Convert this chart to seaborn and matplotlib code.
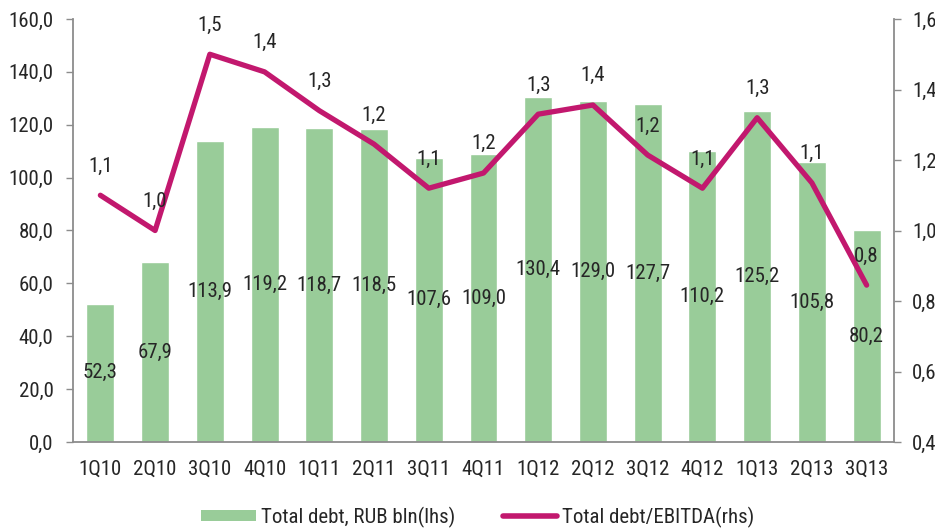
import numpy as np
import seaborn as sns
import matplotlib.pyplot as plt
from matplotlib.patches import Patch
from matplotlib.lines import Line2D

quarters = ['1Q10', '2Q10', '3Q10', '4Q10', '1Q11', '2Q11', '3Q11', '4Q11',
            '1Q12', '2Q12', '3Q12', '4Q12', '1Q13', '2Q13', '3Q13']
total_debt = [52.3, 67.9, 113.9, 119.2, 118.7, 118.5, 107.6, 109.0,
              130.4, 129.0, 127.7, 110.2, 125.2, 105.8, 80.2]
debt_ebitda = [1.10, 1.00, 1.50, 1.45, 1.34, 1.245, 1.12, 1.163,
               1.33, 1.356, 1.214, 1.12, 1.32, 1.135, 0.845]

bar_color = '#99CC99'
line_color = '#C2186E'
axis_color = '#8C8C8C'

sns.set_style('white')
plt.rcParams['font.family'] = ['Roboto Condensed', 'Liberation Sans', 'DejaVu Sans']
fs = 15


def comma(v):
    return f'{v:.1f}'.replace('.', ',')


fig = plt.figure(figsize=(9.35, 5.28), dpi=100)
ax = fig.add_axes([73 / 935, 1 - 442 / 528, (894 - 73) / 935, (442 - 19) / 528])

sns.barplot(x=quarters, y=total_debt, color=bar_color, width=0.51, saturation=1, ax=ax)
ax.bar_label(ax.containers[0], labels=[comma(v) for v in total_debt],
             label_type='center', fontsize=fs)

ax.set_xlim(-0.5, len(quarters) - 0.5)
ax.set_ylim(0, 160)
ax.set_yticks(np.arange(0, 161, 20))
ax.set_yticklabels([comma(v) for v in np.arange(0, 161, 20)])
ax.set_xticks(np.arange(-0.5, len(quarters)), minor=True)
ax.tick_params(axis='x', which='major', length=0, pad=13, labelsize=fs)
ax.tick_params(axis='x', which='minor', length=6, width=1, color=axis_color, direction='out')
ax.tick_params(axis='y', length=5, width=1, color=axis_color, direction='out', pad=9, labelsize=fs)
for s in ['top', 'right']:
    ax.spines[s].set_visible(False)
for s in ['left', 'bottom']:
    ax.spines[s].set_color(axis_color)
    ax.spines[s].set_linewidth(1.3)

ax2 = ax.twinx()
xs = np.arange(len(quarters))
sns.lineplot(x=xs, y=debt_ebitda, color=line_color, linewidth=3.8, ax=ax2)
for x, v in zip(xs, debt_ebitda):
    ax2.annotate(comma(v), (x, v), xytext=(0, 21), textcoords='offset points',
                 ha='center', va='center', fontsize=fs)
ax2.set_ylim(0.4, 1.6)
ax2.set_yticks(np.arange(0.4, 1.61, 0.2))
ax2.set_yticklabels([comma(v) for v in np.arange(0.4, 1.61, 0.2)])
ax2.tick_params(axis='y', length=5, width=1, color=axis_color, direction='out', pad=8, labelsize=fs)
for s in ['top', 'left', 'bottom']:
    ax2.spines[s].set_visible(False)
ax2.spines['right'].set_color(axis_color)
ax2.spines['right'].set_linewidth(1.3)

handles = [Patch(facecolor=bar_color, edgecolor='none'),
           Line2D([0], [0], color=line_color, linewidth=4, solid_capstyle='round')]
fig.legend(handles, ['Total debt, RUB bln(lhs)', 'Total debt/EBITDA(rhs)'],
           loc='center', bbox_to_anchor=(478 / 935, 1 - 517 / 528), ncol=2,
           frameon=False, fontsize=fs, handlelength=2.6, handleheight=0.5,
           handletextpad=0.25, columnspacing=2.3)

fig.savefig('out.png', dpi=100)
